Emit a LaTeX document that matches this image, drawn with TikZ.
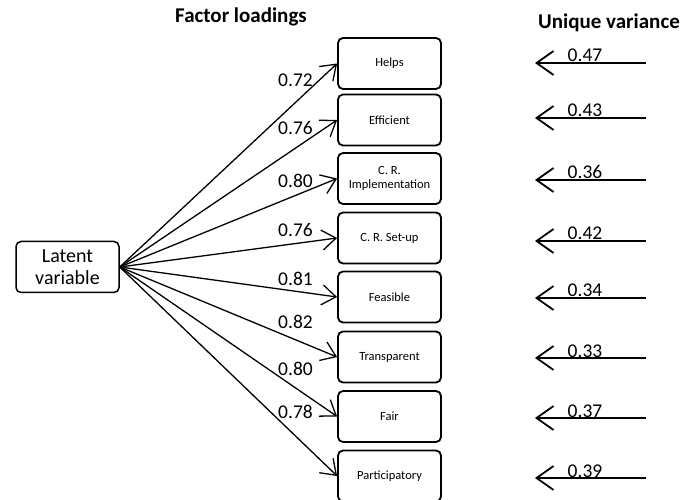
\documentclass[tikz,border=0pt]{standalone}
\usepackage{fontspec}
\setmainfont{Carlito}
\usetikzlibrary{arrows.meta}

\begin{document}
\begin{tikzpicture}[x=1pt,y=-1pt,
  box/.style={draw,line width=1.8pt,rounded corners=5pt,minimum width=103pt,minimum height=51pt,inner sep=1pt,align=center,font=\fontsize{12.5}{14}\selectfont},
  load/.style={-{Straight Barb[length=14pt,width=20pt]},line width=1.3pt},
  uvar/.style={-{Straight Barb[length=17pt,width=24pt]},line width=1.8pt},
  head/.style={font=\fontsize{21}{24}\selectfont\bfseries},
  num/.style={font=\fontsize{19.5}{22}\selectfont,inner sep=0pt}]
  \useasboundingbox (0,0) rectangle (681,500);
  \node[head] (fl) at (241,17) {Factor loadings};
  \node[head] (uv) at (609,23) {Unique variance};
  \node[box,font=\fontsize{20}{22}\selectfont,line width=1.5pt] (lv) at (67.5,267) {Latent\\variable};
  \foreach \n/\t/\y/\l/\ly/\v/\vy in {helps/Helps/63.5/0.72/80/0.47/63,
      eff/Efficient/120/0.76/128/0.43/118,
      impl/{C. R.\\Implementation}/178.5/0.80/181/0.36/180,
      setup/C. R. Set-up/238/0.76/230/0.42/241,
      feas/Feasible/297/0.81/279/0.34/298,
      trans/Transparent/357/0.82/322/0.33/358,
      fair/Fair/416.5/0.80/369/0.37/418,
      part/Participatory/476/0.78/412/0.39/478}
  {
    \node[box] (\n) at (389.5,\y) {\t};
    \node[num,anchor=east] (\n-l) at (313,\ly) {\l};
    \draw[load] (lv.east) -- (\n.west);
    % unique variance
    \coordinate (\n-s) at (646,\vy);
    \coordinate (\n-e) at (535,\vy);
    \draw[uvar] (\n-s) -- (\n-e);
    \node[num,anchor=base] (\n-v) at (585,\vy-1) {\v};
  }
\end{tikzpicture}
\end{document}
